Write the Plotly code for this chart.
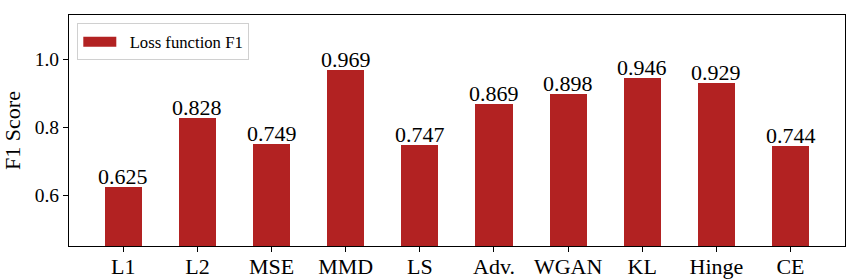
import plotly.graph_objects as go

categories = ["L1", "L2", "MSE", "MMD", "LS", "Adv.", "WGAN", "KL", "Hinge", "CE"]
f1_scores = [0.625, 0.828, 0.749, 0.969, 0.747, 0.869, 0.898, 0.946, 0.929, 0.744]
series_name = "Loss function F1"
y_ticks = [0.6, 0.8, 1.0]
y_tick_labels = ["0.6", "0.8", "1.0"]

COLOR = "#B22222"
FONT = "Liberation Serif"

fig = go.Figure()
fig.add_trace(go.Bar(
    x=list(range(len(categories))), y=f1_scores, width=0.5,
    marker=dict(color=COLOR, line=dict(width=0)),
    showlegend=False, name=series_name,
))
# legend entry with a wide patch like matplotlib
fig.add_trace(go.Scatter(
    x=[None], y=[None], mode="lines", name="&nbsp;&nbsp;" + series_name,
    line=dict(color=COLOR, width=12), showlegend=True,
))

for i, v in enumerate(f1_scores):
    fig.add_annotation(
        x=i, y=v, text=f"{v:.3f}", showarrow=False,
        xanchor="center", yanchor="bottom", yshift=-4,
        font=dict(family=FONT, size=22, color="black"),
    )

fig.update_layout(
    width=858, height=279,
    margin=dict(l=69, r=13, t=15, b=33, autoexpand=False),
    plot_bgcolor="white", paper_bgcolor="white",
    font=dict(family=FONT, color="black"),
    bargap=0,
    legend=dict(
        x=0.0107, y=0.964, xanchor="left", yanchor="top",
        bgcolor="white", bordercolor="#D0D0D0", borderwidth=1,
        font=dict(family=FONT, size=16.7), itemwidth=33,
    ),
)
fig.update_xaxes(
    range=[-0.733, 9.735], automargin=False,
    tickmode="array", tickvals=list(range(len(categories))), ticktext=categories,
    tickfont=dict(family=FONT, size=22), ticks="outside", ticklen=5, tickwidth=1,
    ticklabelstandoff=-5,
    tickcolor="black", showline=True, linecolor="black", linewidth=1.2, mirror=True,
    showgrid=False, zeroline=False,
)
fig.update_yaxes(
    range=[0.45, 1.13], automargin=False,
    tickmode="array", tickvals=y_ticks, ticktext=y_tick_labels,
    tickfont=dict(family=FONT, size=19.5), ticks="outside", ticklen=5, tickwidth=1,
    tickcolor="black", showline=True, linecolor="black", linewidth=1.2, mirror=True,
    showgrid=False, zeroline=False,
    title=dict(text="F1 Score", font=dict(family=FONT, size=22), standoff=8),
)

fig.write_html("out.html", config={"displayModeBar": False},
               post_script="document.body.style.margin='0';")
